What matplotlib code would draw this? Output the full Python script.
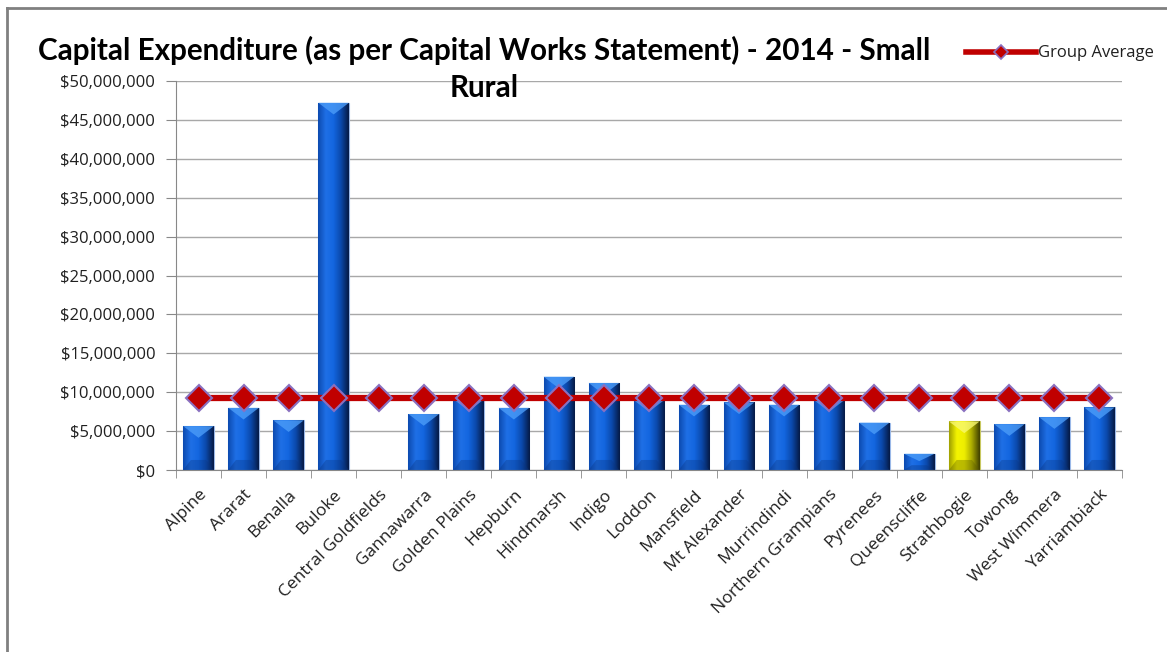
import numpy as np
import matplotlib.pyplot as plt
from matplotlib.patches import Polygon
from matplotlib.lines import Line2D
from matplotlib.ticker import FuncFormatter, MultipleLocator
from matplotlib.colors import LinearSegmentedColormap

councils = ["Alpine", "Ararat", "Benalla", "Buloke", "Central Goldfields",
            "Gannawarra", "Golden Plains", "Hepburn", "Hindmarsh", "Indigo",
            "Loddon", "Mansfield", "Mt Alexander", "Murrindindi",
            "Northern Grampians", "Pyrenees", "Queenscliffe", "Strathbogie",
            "Towong", "West Wimmera", "Yarriambiack"]
capex = [5.65e6, 8.0e6, 6.4e6, 47.2e6, 0.0,
         7.2e6, 9.1e6, 8.0e6, 12.0e6, 11.2e6,
         9.0e6, 8.4e6, 8.7e6, 8.4e6,
         9.0e6, 6.1e6, 2.1e6, 6.25e6,
         5.9e6, 6.8e6, 8.05e6]
group_average = 9.25e6
highlight = "Strathbogie"

plt.rcParams['font.family'] = ['Open Sans', 'DejaVu Sans']

fig = plt.figure(figsize=(11.67, 6.52), dpi=100)
ax = fig.add_axes([0.1508, 0.279, 0.8106, 0.5968])

blue_cmap = LinearSegmentedColormap.from_list(
    "bevel_blue", ["#0c4ab0", "#1f70e6", "#1366e0", "#0b48aa", "#061a45"])
yellow_cmap = LinearSegmentedColormap.from_list(
    "bevel_yellow", ["#a0a000", "#f4f400", "#eeee00", "#a8a800", "#404000"])
grad = np.linspace(0, 1, 64).reshape(1, -1)

x = np.arange(len(councils))
width = 0.68
bars = ax.bar(x, capex, width=width, color="#1060d0", zorder=2)
for name, bar, val in zip(councils, bars, capex):
    if val <= 0:
        continue
    cmap = yellow_cmap if name == highlight else blue_cmap
    x0, w, h = bar.get_x(), bar.get_width(), bar.get_height()
    bar.set_facecolor("none")
    bar.set_edgecolor("#9ab8e8" if name != highlight else "#c8c860")
    bar.set_linewidth(0.8)
    im = ax.imshow(grad, cmap=cmap, aspect="auto", extent=[x0, x0 + w, 0, h],
                   zorder=2, interpolation="bicubic")
    im.set_clip_path(bar)
    # bevelled top face and darker base
    bev = min(1.5e6, h * 0.45)
    light = "#f8f870" if name == highlight else "#4b9cf8"
    ax.add_patch(Polygon([[x0, h], [x0 + w, h], [x0 + w * 0.5, h - bev]],
                         closed=True, facecolor=light, edgecolor="none",
                         alpha=0.8, zorder=2.1))
    base = min(1.3e6, h * 0.3)
    dark = "#5a5a00" if name == highlight else "#0a3580"
    ax.add_patch(Polygon([[x0, 0], [x0 + w, 0], [x0 + w * 0.75, base],
                          [x0 + w * 0.25, base]],
                         closed=True, facecolor=dark, edgecolor="none",
                         alpha=0.35, zorder=2.1))

ax.plot(x, [group_average] * len(x), color="#c00000", lw=4.5, zorder=3,
        marker="D", markersize=13, markerfacecolor="#c00000",
        markeredgecolor="#8a70c0", markeredgewidth=1.5)

ax.set_xlim(-0.5, len(councils) - 0.5)
ax.set_ylim(0, 50e6)
ax.yaxis.set_major_locator(MultipleLocator(5e6))
ax.yaxis.set_major_formatter(FuncFormatter(lambda v, p: f"${v:,.0f}"))
ax.grid(axis="y", color="#a8a8a8", lw=1, zorder=0)
ax.set_axisbelow(True)

ax.set_xticks(x)
ax.set_xticklabels(councils, rotation=45, ha="right", rotation_mode="anchor",
                   fontsize=12.5, color="#202020")
ax.tick_params(axis="x", length=0, pad=12)
ax.set_xticks(np.arange(-0.5, len(councils), 1), minor=True)
ax.tick_params(axis="x", which="minor", length=6, color="#888888")
ax.tick_params(axis="y", length=7, color="#888888", labelsize=12,
               labelcolor="#202020", pad=8)

for side in ["top", "right"]:
    ax.spines[side].set_visible(False)
ax.spines["left"].set_color("#888888")
ax.spines["bottom"].set_color("#888888")

fig.text(0.415, 0.923, "Capital Expenditure (as per Capital Works Statement) - 2014 - Small",
         ha="center", va="center", fontsize=21.3, fontweight="bold",
         family=["Lato", "DejaVu Sans"])
fig.text(0.415, 0.865, "Rural", ha="center", va="center",
         fontsize=21.3, fontweight="bold", family=["Lato", "DejaVu Sans"])

handle = Line2D([], [], color="#c00000", lw=4, marker="D", markersize=7,
                markerfacecolor="#c00000", markeredgecolor="#8a70c0",
                markeredgewidth=1.2)
fig.legend([handle], ["Group Average"], loc="center left",
           bbox_to_anchor=(0.815, 0.918), frameon=False, fontsize=12,
           handlelength=4.2, handletextpad=0.1, labelcolor="#202020")

# outer frame, top and left edges
fig.add_artist(Line2D([0.006, 0.006], [0.0, 0.987], transform=fig.transFigure,
                      color="#808080", lw=2))
fig.add_artist(Line2D([0.006, 1.0], [0.987, 0.987], transform=fig.transFigure,
                      color="#808080", lw=2))

fig.savefig("out.png", dpi=100)
